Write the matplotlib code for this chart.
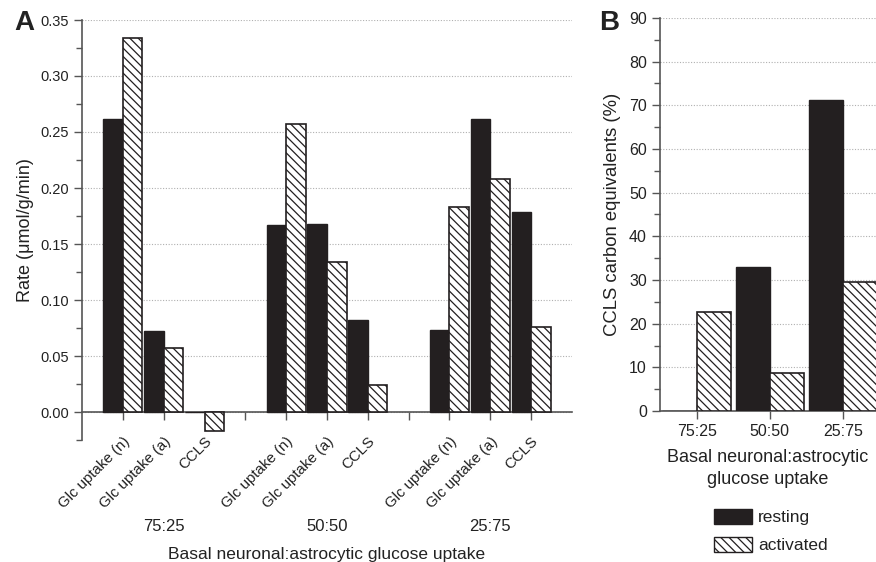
import numpy as np
import matplotlib
matplotlib.use("Agg")
import matplotlib.pyplot as plt
from matplotlib.patches import Patch
from matplotlib.ticker import MultipleLocator, FuncFormatter

plt.rcParams['font.family'] = ['Liberation Sans', 'DejaVu Sans']
plt.rcParams['hatch.linewidth'] = 0.9

# panel A data
groups = ["75:25", "50:50", "25:75"]
measures = ["Glc uptake (n)", "Glc uptake (a)", "CCLS"]
rest_a = [0.262, 0.072, 0.0, 0.167, 0.1675, 0.082, 0.073, 0.262, 0.179]
act_a = [0.334, 0.057, -0.017, 0.257, 0.134, 0.0245, 0.183, 0.208, 0.0763]

# panel B data
ratios_b = ["75:25", "50:50", "25:75"]
rest_b = [0.0, 33.0, 71.2]
act_b = [22.7, 8.7, 29.6]

DARK = "#231f20"
AXC = "#555555"
TXT = "#222222"
HATCH = "\\" * 4


def style_axis(ax, labelsize):
    for s in ["top", "right"]:
        ax.spines[s].set_visible(False)
    for s in ["left", "bottom"]:
        ax.spines[s].set_color(AXC)
        ax.spines[s].set_linewidth(1.2)
    ax.tick_params(axis="both", which="major", direction="out", length=6,
                   width=1.0, color=AXC, labelsize=labelsize, labelcolor=TXT)
    ax.tick_params(axis="y", which="minor", direction="out", length=4,
                   width=1.0, color=AXC)
    ax.yaxis.grid(True, which="major", linestyle=(0, (1, 1.5)), color="#b0b0b0",
                  linewidth=0.8)
    ax.set_axisbelow(True)


fig = plt.figure(figsize=(8.76, 5.62), dpi=100)

# ---- panel A ----
axA = fig.add_axes([82 / 876, 1 - 440 / 562, (572 - 82) / 876, (440 - 20) / 562])
style_axis(axA, 10.5)
pos = []
for g in range(len(groups)):
    for m in range(len(measures)):
        pos.append(g * 4 + m)
pos = np.array(pos)
w = 0.48
axA.bar(pos - w, rest_a, width=w, align="edge", color=DARK, edgecolor=DARK,
        linewidth=1.0, zorder=3)
axA.bar(pos, act_a, width=w, align="edge", color="white", edgecolor=DARK,
        hatch=HATCH, linewidth=1.2, zorder=3)
axA.set_xlim(-1, 11)
axA.set_ylim(-0.025, 0.35)
axA.yaxis.set_major_locator(MultipleLocator(0.05))
axA.yaxis.set_minor_locator(MultipleLocator(0.025))
axA.yaxis.set_major_formatter(FuncFormatter(
    lambda v, p: f"{v:.2f}" if v > -0.01 else ""))
axA.spines["bottom"].set_position(("data", 0))
axA.set_xticks(range(11))
axA.set_xticklabels([measures[i % 4] if i % 4 < 3 else "" for i in range(11)],
                    rotation=45, ha="right", rotation_mode="anchor", fontsize=10.8)
axA.tick_params(axis="x", pad=10)
axA.set_ylabel("Rate (\u03bcmol/g/min)", fontsize=13, labelpad=4, color=TXT)
for g, name in enumerate(groups):
    axA.text(g * 4 + 1, -0.207, name, transform=axA.get_xaxis_transform(),
             ha="center", va="center", fontsize=12, color=TXT)
axA.text(5, -0.272, "Basal neuronal:astrocytic glucose uptake",
         transform=axA.get_xaxis_transform(), ha="center", va="center",
         fontsize=12.5, color=TXT)
fig.text(24 / 876, 1 - 23 / 562, "A", fontsize=20, fontweight="bold",
         ha="center", va="center", color=TXT)

# ---- panel B ----
axB = fig.add_axes([660 / 876, 1 - 411 / 562, (876 - 660) / 876, (411 - 18) / 562])
style_axis(axB, 11.5)
xb = np.arange(len(ratios_b))
wb = 0.466
axB.bar(xb - wb, rest_b, width=wb, align="edge", color=DARK, edgecolor=DARK,
        linewidth=1.0, zorder=3)
axB.bar(xb, act_b, width=wb, align="edge", color="white", edgecolor=DARK,
        hatch=HATCH, linewidth=1.2, zorder=3)
axB.set_xlim(-0.5, 2.45)
axB.set_ylim(0, 90)
axB.yaxis.set_major_locator(MultipleLocator(10))
axB.yaxis.set_minor_locator(MultipleLocator(5))
axB.set_xticks(xb)
axB.set_xticklabels(ratios_b)
axB.set_ylabel("CCLS carbon equivalents (%)", fontsize=13.3, labelpad=6,
               color=TXT)
axB.set_xlabel("Basal neuronal:astrocytic\nglucose uptake", fontsize=13,
               color=TXT, labelpad=7, linespacing=1.4)
fig.text(609 / 876, 1 - 23 / 562, "B", fontsize=20, fontweight="bold",
         ha="center", va="center", color=TXT)

handles = [Patch(facecolor=DARK, edgecolor=DARK, label="resting"),
           Patch(facecolor="white", edgecolor=DARK, hatch=HATCH, label="activated")]
fig.legend(handles=handles, loc="center", bbox_to_anchor=(771 / 876, 1 - 531 / 562),
           frameon=False, fontsize=12.5, handlelength=2.2, handleheight=0.95,
           handletextpad=0.35, labelspacing=0.65, labelcolor=TXT)

fig.savefig("out.png", dpi=100)
